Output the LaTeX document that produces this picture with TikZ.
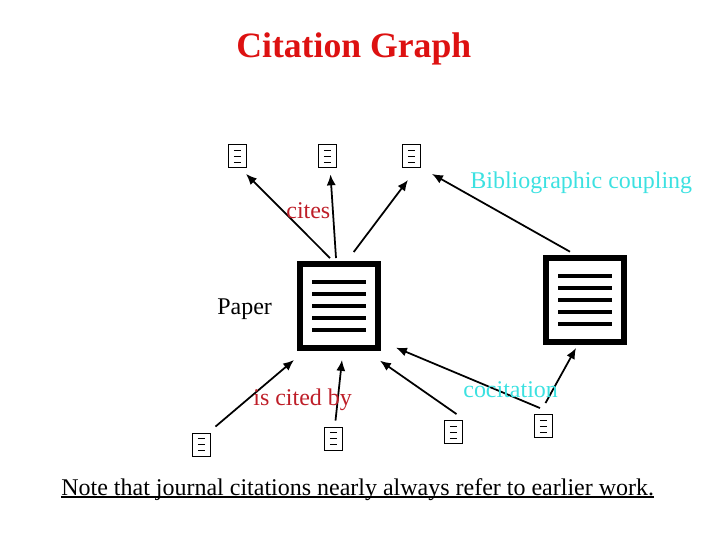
\documentclass[tikz,border=0pt]{standalone}
\usepackage{fontspec}
\setmainfont{Liberation Serif}
\usetikzlibrary{arrows.meta}
\definecolor{titlered}{RGB}{221,17,17}
\definecolor{labelred}{RGB}{190,30,40}
\definecolor{labelcyan}{RGB}{60,225,225}
\tikzset{
  bigdoc/.style={draw, line width=3.4pt, minimum width=1.56cm, minimum height=1.68cm, inner sep=0pt},
  smalldoc/.style={draw, line width=.5pt, minimum width=.36cm, minimum height=.46cm, inner sep=0pt},
  cite/.style={-{Latex[length=6.2pt,width=5.2pt]}, line width=1pt},
  label/.style={anchor=base west, inner sep=0pt, font=\fontsize{13.65pt}{15pt}\selectfont}
}
\begin{document}
\begin{tikzpicture}[x=.02cm, y=-.02cm]
\useasboundingbox (0,0) rectangle (720,540);

\node[anchor=base west, inner sep=0pt, text=titlered, font=\fontsize{20.3pt}{22pt}\selectfont\bfseries] (title) at (236,58) {Citation Graph};

% the two papers
\foreach \n/\px/\py in {paper/339/306,other/585/300}
{
    \node[bigdoc] (\n) at (\px,\py) {};
    \foreach \d in {-24,-12,0,12,24}
    {
        \draw[line width=2.6pt] (\px-27,\py+\d)--(\px+27,\py+\d);
    }
}

% the small ones
\foreach \n/\px/\py in {a/237.5/156,b/327.5/156,c/411.5/156,e/201.5/444.5,f/333.5/438.5,g/453.5/432,h/543.5/426}
{
    \node[smalldoc] (\n) at (\px,\py) {};
    \foreach \d in {-6,0,6}
    {
        \draw[line width=.5pt] (\px-3.7,\py+\d)--(\px+3.7,\py+\d);
    }
}

\draw[cite] ([shift={(-9,-3)}]paper.north)--([shift={(8.5,6)}]a.south);
\draw[cite] ([shift={(-3,-3)}]paper.north)--([shift={(3,6.5)}]b.south);
\draw[cite] ([shift={(14.7,-9)}]paper.north)--([shift={(-3.5,12)}]c.south);
\draw[cite] ([shift={(-15,-3.3)}]other.north)--([shift={(20.5,6)}]c.south);

\draw[cite] ([shift={(14,-6)}]e.north)--([shift={(-45,9)}]paper.south);
\draw[cite] ([shift={(2,-6)}]f.north)--([shift={(3,9)}]paper.south);
\draw[cite] ([shift={(3,-6)}]g.north)--([shift={(41,9.7)}]paper.south);
\draw[cite] ([shift={(-3.5,-6)}]h.north)--([shift={(57,-3.3)}]paper.south);
\draw[cite] ([shift={(2,-11)}]h.north)--([shift={(-9,3)}]other.south);

\node[label, text=labelred] (cites) at (286,219) {cites};
\node[label, text=labelred] (citedby) at (253,405) {is cited by};
\node[label] (paperlabel) at (217,315) {Paper};
\node[label, text=labelcyan] (coupling) at (470,189) {Bibliographic coupling};
\node[label, text=labelcyan] (cocitation) at (463,398) {cocitation};
\node[label] (note) at (61,495) {Note that journal citations nearly always refer to earlier work.};
\draw[line width=.85pt] ([yshift=-1.2pt]note.base west)--([yshift=-1.2pt]note.base east);
\end{tikzpicture}
\end{document}
